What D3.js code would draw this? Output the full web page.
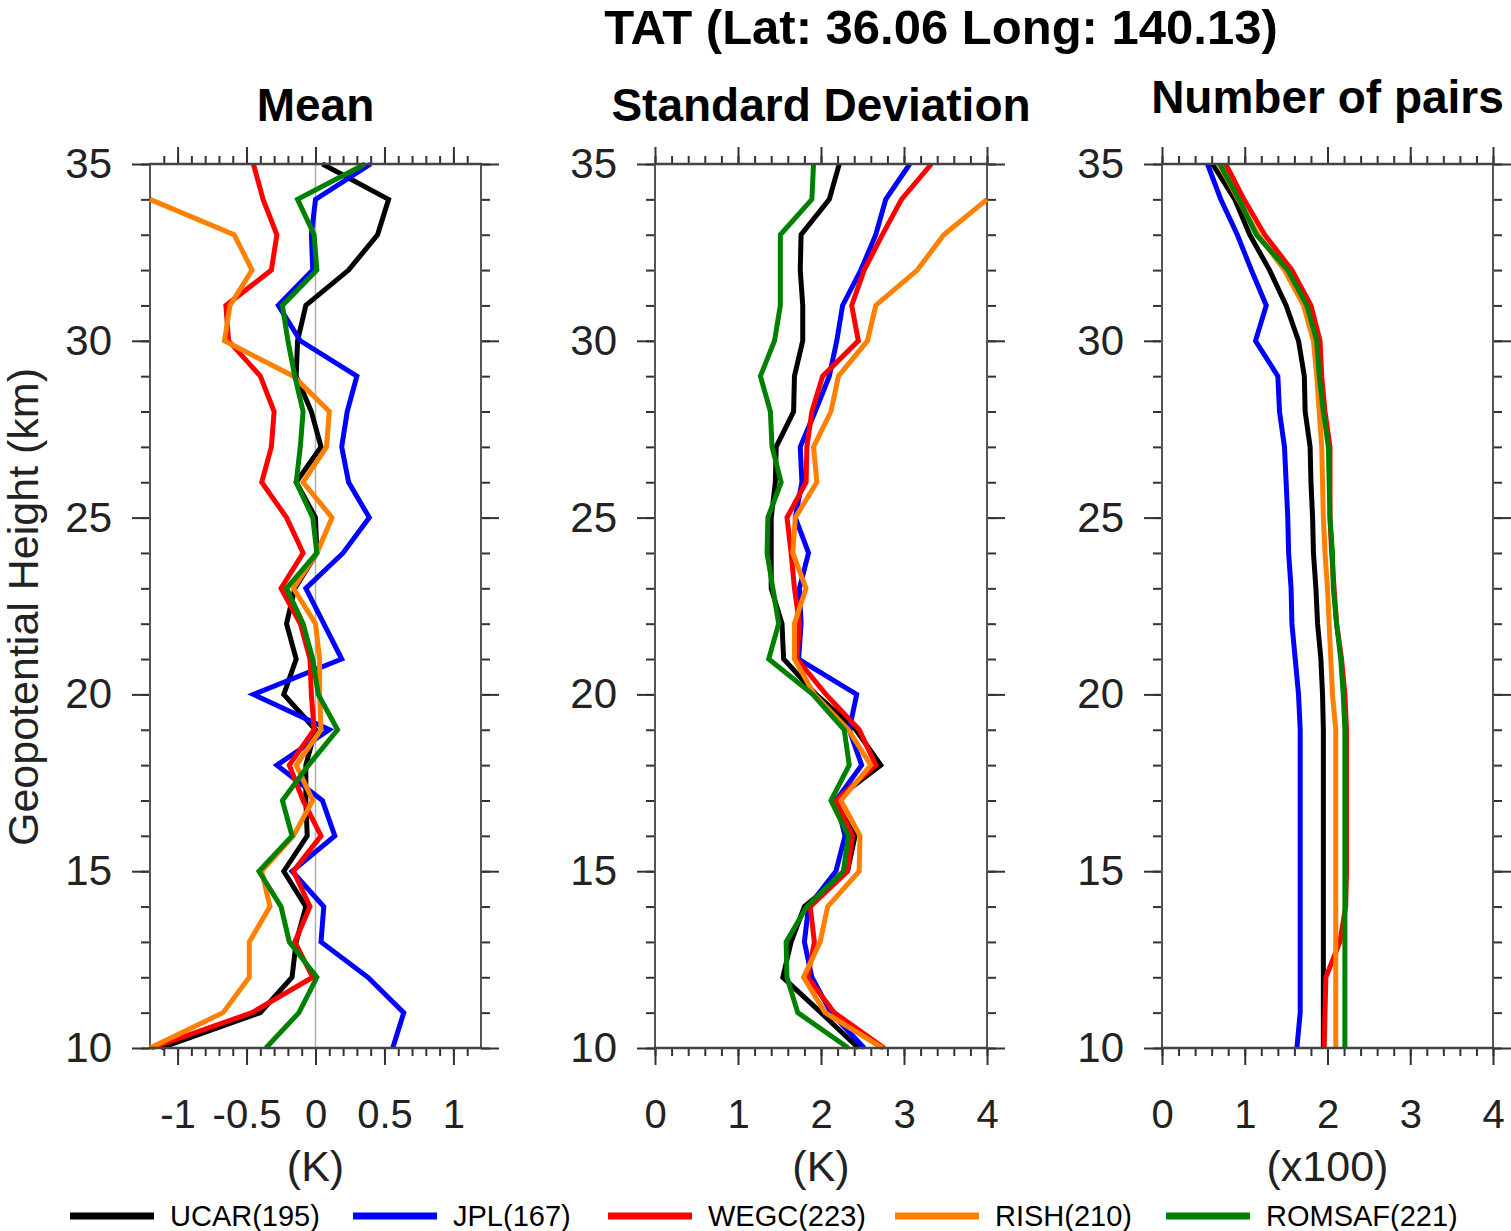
<!DOCTYPE html>
<html>
<head>
<meta charset="utf-8">
<script src="https://cdn.jsdelivr.net/npm/d3@7"></script>
<style>
  html, body { margin: 0; padding: 0; background: #fff; }
  svg { display: block; font-family: "Liberation Sans", Arial, Helvetica, sans-serif; }
</style>
</head>
<body>
<svg id="chart" width="1511" height="1231"></svg>
<script>
// ---------------- DATA ----------------
const heights = [10,11,12,13,14,15,16,17,18,19,20,21,22,23,24,25,26,27,28,29,30,31,32,33,34,35];
const centers = ["UCAR", "JPL", "WEGC", "RISH", "ROMSAF"];
const legendCounts = [195, 167, 223, 210, 221];
const colors = ["#000000", "#0000ff", "#ff0000", "#ff8000", "#008000"];

// Mean bias (K), heights 10..35 km
const meanUCAR   = [-1.12,-0.40,-0.17,-0.14,-0.07,-0.23,-0.06,-0.07,-0.07,0.00,-0.23,-0.14,-0.21,-0.15,0.01,0.00,-0.14,0.04,-0.03,-0.14,-0.13,-0.07,0.24,0.45,0.53,0.05];
const meanJPL    = [0.56,0.64,0.38,0.04,0.06,-0.17,0.14,0.05,-0.28,0.10,-0.45,0.19,0.06,-0.07,0.20,0.39,0.24,0.19,0.23,0.30,-0.11,-0.27,-0.02,-0.03,0.00,0.40];
const meanWEGC   = [-1.19,-0.46,-0.02,-0.15,-0.04,-0.16,0.04,-0.09,-0.19,-0.01,-0.03,-0.04,-0.11,-0.25,-0.09,-0.21,-0.39,-0.32,-0.30,-0.40,-0.63,-0.65,-0.32,-0.28,-0.38,-0.45];
const meanRISH   = [-1.20,-0.67,-0.48,-0.48,-0.33,-0.39,-0.16,-0.02,-0.14,0.04,0.03,0.03,0.00,-0.16,0.01,0.12,-0.09,0.08,0.10,-0.16,-0.66,-0.62,-0.46,-0.59,-1.20,null];
const meanROMSAF = [-0.36,-0.12,0.01,-0.19,-0.25,-0.41,-0.17,-0.24,-0.05,0.16,0.02,-0.02,-0.09,-0.21,0.01,-0.02,-0.14,-0.11,-0.09,-0.15,-0.20,-0.24,0.01,-0.01,-0.13,0.36];

// Standard deviation (K)
const sdUCAR   = [2.45,2.00,1.54,1.64,1.80,2.32,2.41,2.16,2.72,2.42,1.94,1.55,1.53,1.40,1.40,1.40,1.45,1.46,1.67,1.68,1.78,1.78,1.75,1.76,2.10,2.22];
const sdJPL    = [2.52,2.12,1.89,1.80,1.85,2.18,2.29,2.18,2.49,2.34,2.43,1.73,1.76,1.74,1.85,1.69,1.77,1.75,1.93,2.10,2.19,2.26,2.48,2.66,2.78,3.07];
const sdWEGC   = [2.76,2.16,1.84,1.92,1.87,2.32,2.38,2.18,2.66,2.46,2.06,1.71,1.74,1.68,1.64,1.59,1.82,1.83,1.89,2.02,2.45,2.37,2.52,2.74,2.97,3.33];
const sdRISH   = [2.74,2.05,1.79,1.99,2.08,2.46,2.47,2.24,2.60,2.33,1.92,1.68,1.68,1.82,1.66,1.69,1.95,1.91,2.12,2.21,2.56,2.66,3.16,3.48,4.00,null];
const sdROMSAF = [2.33,1.72,1.59,1.58,1.83,2.27,2.33,2.12,2.34,2.28,1.90,1.37,1.49,1.42,1.35,1.36,1.52,1.41,1.39,1.27,1.44,1.51,1.51,1.51,1.89,1.91];

// Number of pairs
const nUCAR   = [195,195,195,195,195,195,195,195,195,195,194,192,188,186,183,182,180,179,173,172,165,150,130,106,88,61];
const nJPL    = [163,167,167,167,167,167,167,167,167,167,165,161,157,156,153,152,150,148,142,140,113,126,108,91,71,55];
const nWEGC   = [196,197,198,215,222,223,223,223,223,223,221,217,211,208,205,203,203,203,197,193,191,180,157,124,99,77];
const nRISH   = [210,210,210,210,210,210,210,210,210,210,206,204,202,200,197,195,194,193,190,187,183,171,148,116,92,69];
const nROMSAF = [221,221,221,221,221,221,221,221,221,221,219,216,211,207,206,203,202,201,195,190,187,175,152,114,93,70];

const meanTicks = [-1, -0.5, 0, 0.5, 1];
const meanTickLabels = ["-1", "-0.5", "0", "0.5", "1"];
const zeroToFourTicks = [0, 1, 2, 3, 4];
const heightTicks = [10, 15, 20, 25, 30, 35];

const title = "TAT (Lat: 36.06 Long: 140.13)";
const panelTitles = ["Mean", "Standard Deviation", "Number of pairs"];
const unitLabels = ["(K)", "(K)", "(x100)"];
const yTitle = "Geopotential Height (km)";

// ---------------- LAYOUT ----------------
const svg = d3.select("#chart");
const plotTop = 164, plotBottom = 1048;
const y = d3.scaleLinear().domain([10, 35]).range([plotBottom, plotTop]);

const panels = [
  { x0: 150, x1: 481, domain: [-1.2, 1.2], series: [meanUCAR, meanJPL, meanWEGC, meanRISH, meanROMSAF],
    major: meanTicks, labels: meanTickLabels, minor: d3.range(-11, 12).map(d => d / 10), scaleVal: 1, zero: true,
    titleY: 121 },
  { x0: 655, x1: 987, domain: [0, 4], series: [sdUCAR, sdJPL, sdWEGC, sdRISH, sdROMSAF],
    major: zeroToFourTicks, labels: zeroToFourTicks.map(String), minor: d3.range(0, 21).map(d => d / 5), scaleVal: 1,
    titleY: 121 },
  { x0: 1162, x1: 1493, domain: [0, 4], series: [nUCAR, nJPL, nWEGC, nRISH, nROMSAF],
    major: zeroToFourTicks, labels: zeroToFourTicks.map(String), minor: d3.range(0, 21).map(d => d / 5), scaleVal: 0.01,
    titleY: 113 }
];

const tickColor = "#333";

panels.forEach((p, pi) => {
  const x = d3.scaleLinear().domain(p.domain).range([p.x0, p.x1]);
  const g = svg.append("g");

  if (p.zero) {
    g.append("line").attr("x1", x(0)).attr("x2", x(0)).attr("y1", plotTop).attr("y2", plotBottom)
      .attr("stroke", "#b0b0b0").attr("stroke-width", 1.5);
  }

  function styleAxis(sel) {
    sel.select(".domain").remove();
    sel.selectAll(".tick line").attr("stroke", tickColor).attr("stroke-width", 2);
  }

  const minorY = d3.range(10, 36);
  g.append("g").attr("transform", `translate(0,${plotTop})`)
    .call(d3.axisTop(x).tickValues(p.minor).tickSize(8).tickFormat("")).call(styleAxis);
  g.append("g").attr("transform", `translate(0,${plotTop})`)
    .call(d3.axisTop(x).tickValues(p.major).tickSize(17).tickFormat("")).call(styleAxis);
  g.append("g").attr("transform", `translate(0,${plotBottom})`)
    .call(d3.axisBottom(x).tickValues(p.minor).tickSize(8).tickFormat("")).call(styleAxis);
  const bAx = g.append("g").attr("transform", `translate(0,${plotBottom})`)
    .call(d3.axisBottom(x).tickValues(p.major).tickSize(17).tickPadding(35)
      .tickFormat((d, i) => p.labels[i])).call(styleAxis);
  bAx.selectAll(".tick text").attr("font-size", 40).attr("fill", "#222")
    .attr("font-family", "'Liberation Sans', Arial, sans-serif");

  g.append("g").attr("transform", `translate(${p.x0},0)`)
    .call(d3.axisLeft(y).tickValues(minorY).tickSize(9).tickFormat("")).call(styleAxis);
  const lAx = g.append("g").attr("transform", `translate(${p.x0},0)`)
    .call(d3.axisLeft(y).tickValues(heightTicks).tickSize(18).tickPadding(20).tickFormat(d3.format("d"))).call(styleAxis);
  lAx.selectAll(".tick text").attr("font-size", 42).attr("fill", "#222")
    .attr("font-family", "'Liberation Sans', Arial, sans-serif");
  g.append("g").attr("transform", `translate(${p.x1},0)`)
    .call(d3.axisRight(y).tickValues(minorY).tickSize(9).tickFormat("")).call(styleAxis);
  g.append("g").attr("transform", `translate(${p.x1},0)`)
    .call(d3.axisRight(y).tickValues(heightTicks).tickSize(18).tickFormat("")).call(styleAxis);

  g.append("line").attr("x1", p.x0).attr("x2", p.x0).attr("y1", plotTop).attr("y2", plotBottom).attr("stroke", "#555").attr("stroke-width", 2);
  g.append("line").attr("x1", p.x1).attr("x2", p.x1).attr("y1", plotTop).attr("y2", plotBottom).attr("stroke", "#555").attr("stroke-width", 2);

  const clipId = "clip" + pi;
  svg.append("clipPath").attr("id", clipId).append("rect")
    .attr("x", p.x0 - 3).attr("y", plotTop - 3).attr("width", p.x1 - p.x0 + 6).attr("height", plotBottom - plotTop + 6);
  const lineGen = d3.line()
    .defined(d => d.v !== null)
    .x(d => x(d.v * p.scaleVal))
    .y(d => y(d.h));
  p.series.forEach((s, si) => {
    const pts = heights.map((h, i) => ({ h: h, v: s[i] }));
    g.append("path").datum(pts).attr("d", lineGen)
      .attr("fill", "none").attr("stroke", colors[si]).attr("stroke-width", 5)
      .attr("stroke-linejoin", "miter").attr("clip-path", `url(#${clipId})`);
  });

  g.append("line").attr("x1", p.x0 - 1).attr("x2", p.x1 + 1).attr("y1", plotTop).attr("y2", plotTop).attr("stroke", "#444").attr("stroke-width", 2.5);
  g.append("line").attr("x1", p.x0 - 1).attr("x2", p.x1 + 1).attr("y1", plotBottom).attr("y2", plotBottom).attr("stroke", "#444").attr("stroke-width", 2.5);

  svg.append("text").attr("x", (p.x0 + p.x1) / 2).attr("y", p.titleY)
    .attr("text-anchor", "middle").attr("font-size", 46).attr("font-weight", "bold")
    .text(panelTitles[pi]);
  svg.append("text").attr("x", (p.x0 + p.x1) / 2).attr("y", 1181)
    .attr("text-anchor", "middle").attr("font-size", 43).attr("fill", "#222")
    .text(unitLabels[pi]);
});

svg.append("text").attr("x", 941).attr("y", 44).attr("text-anchor", "middle")
  .attr("font-size", 49).attr("font-weight", "bold").text(title);

svg.append("text").attr("transform", "translate(38,607) rotate(-90)")
  .attr("text-anchor", "middle").attr("font-size", 43).attr("fill", "#222").text(yTitle);

const legendX = [70, 353, 608, 895, 1166];
const leg = svg.append("g");
centers.forEach((c, i) => {
  leg.append("line").attr("x1", legendX[i]).attr("x2", legendX[i] + 84)
    .attr("y1", 1216).attr("y2", 1216).attr("stroke", colors[i]).attr("stroke-width", 7);
  leg.append("text").attr("x", legendX[i] + 100).attr("y", 1226)
    .attr("font-size", 29).attr("fill", "#000").text(`${c}(${legendCounts[i]})`);
});
</script>
</body>
</html>
